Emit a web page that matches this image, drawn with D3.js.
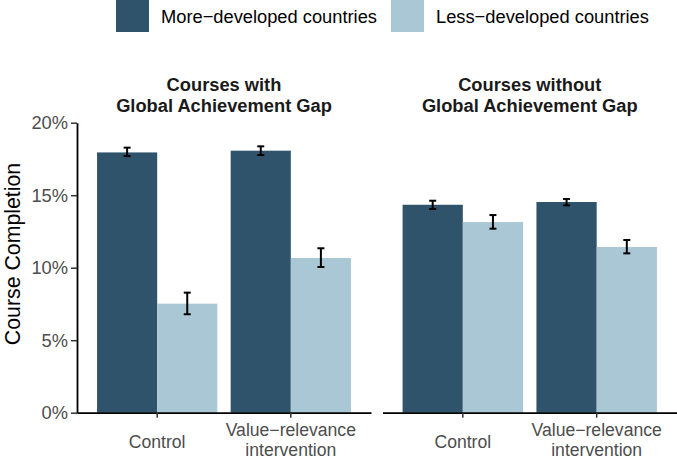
<!DOCTYPE html>
<html><head><meta charset="utf-8">
<script src="https://cdn.jsdelivr.net/npm/d3@7"></script>
<style>body{margin:0;background:#fff}svg{display:block}</style>
</head><body>
<script>
// ---- data ----
const panels = ["Courses with\nGlobal Achievement Gap", "Courses without\nGlobal Achievement Gap"];
const conditions = ["Control", "Value\u2212relevance\nintervention"];
const groups = ["More\u2212developed countries", "Less\u2212developed countries"];
const groupColors = ["#2F536A", "#A9C7D5"];
// values in %, order: panel -> condition -> group
const moreValues = [[17.95, 18.07], [14.34, 14.53]];
const moreLower  = [[17.70, 17.77], [14.05, 14.30]];
const moreUpper  = [[18.28, 18.37], [14.62, 14.74]];
const lessValues = [[7.52, 10.67], [13.15, 11.43]];
const lessLower  = [[6.79, 10.05], [12.69, 10.99]];
const lessUpper  = [[8.28, 11.34], [13.63, 11.91]];
const yTicks = [0, 5, 10, 15, 20];

const W = 677, H = 462;
const svg = d3.select("body").append("svg").attr("width", W).attr("height", H);
const font = "'Liberation Sans', Arial, Helvetica, sans-serif";

const y = d3.scaleLinear().domain([0, 20]).range([412.7, 122.7]);
const panelRanges = [[77, 371], [382.5, 677]];

const rows = [];
panels.forEach((p, pi) => conditions.forEach((c, ci) => {
  rows.push({pi, ci, g: 0, v: moreValues[pi][ci], lo: moreLower[pi][ci], hi: moreUpper[pi][ci]});
  rows.push({pi, ci, g: 1, v: lessValues[pi][ci], lo: lessLower[pi][ci], hi: lessUpper[pi][ci]});
}));

panels.forEach((p, pi) => {
  const x = d3.scaleBand().domain(conditions).range(panelRanges[pi]).paddingInner(0.1).paddingOuter(0.15);
  const xs = d3.scaleBand().domain([0, 1]).range([0, x.bandwidth()]).padding(0);
  const g = svg.append("g");
  const data = rows.filter(r => r.pi === pi);
  g.selectAll("rect.bar").data(data).enter().append("rect")
    .attr("x", d => x(conditions[d.ci]) + xs(d.g))
    .attr("width", xs.bandwidth())
    .attr("y", d => y(d.v))
    .attr("height", d => y(0) - y(d.v))
    .attr("fill", d => groupColors[d.g]);
  // error bars
  const eb = g.selectAll("g.eb").data(data).enter().append("g")
    .attr("stroke", "#000").attr("stroke-width", 2);
  const cx = d => x(conditions[d.ci]) + xs(d.g) + xs.bandwidth() / 2;
  eb.append("line").attr("x1", cx).attr("x2", cx).attr("y1", d => y(d.lo)).attr("y2", d => y(d.hi));
  eb.append("line").attr("x1", d => cx(d) - 3.5).attr("x2", d => cx(d) + 3.5).attr("y1", d => y(d.lo)).attr("y2", d => y(d.lo));
  eb.append("line").attr("x1", d => cx(d) - 3.5).attr("x2", d => cx(d) + 3.5).attr("y1", d => y(d.hi)).attr("y2", d => y(d.hi));

  // x axis
  const xAxis = g.append("g").attr("transform", `translate(0,${y(0)})`)
    .call(d3.axisBottom(x).tickSize(5).tickSizeOuter(0).tickFormat(""));
  xAxis.select(".domain").attr("stroke", "#000").attr("stroke-width", 1.8);
  xAxis.selectAll(".tick line").attr("stroke", "#333").attr("stroke-width", 1.5);
  // x labels
  conditions.forEach(c => {
    const lines = c.split("\n");
    const cxp = x(c) + x.bandwidth() / 2;
    const t = g.append("text").attr("text-anchor", "middle").attr("font-family", font)
      .attr("font-size", 17.6).attr("fill", "#4D4D4D");
    if (lines.length === 1) {
      t.append("tspan").attr("x", cxp).attr("y", 448).text(lines[0]);
    } else {
      lines.forEach((l, li) => t.append("tspan").attr("x", cxp).attr("y", 436.4 + li * 19.8).text(l));
    }
  });
  // facet title
  const cxm = (panelRanges[pi][0] + panelRanges[pi][1]) / 2;
  const tt = g.append("text").attr("text-anchor", "middle").attr("font-family", font)
    .attr("font-size", 18.3).attr("font-weight", "bold").attr("fill", "#1A1A1A");
  p.split("\n").forEach((l, li) => tt.append("tspan").attr("x", cxm).attr("y", 91 + li * 20.6).text(l));

  if (pi === 0) {
    const yAxis = g.append("g").attr("transform", `translate(${panelRanges[0][0]},0)`)
      .call(d3.axisLeft(y).tickValues(yTicks).tickSize(6).tickSizeOuter(0).tickPadding(3).tickFormat(d => d + "%"));
    yAxis.select(".domain").attr("stroke", "#000").attr("stroke-width", 1.8);
    yAxis.selectAll(".tick line").attr("stroke", "#333").attr("stroke-width", 1.5);
    yAxis.selectAll(".tick text").attr("font-family", font).attr("font-size", 18.3).attr("fill", "#4D4D4D");
  }
});

// y title
svg.append("text").attr("transform", "translate(20,254) rotate(-90)")
  .attr("text-anchor", "middle").attr("font-family", font).attr("font-size", 21.3).attr("fill", "#000")
  .text("Course Completion");

// legend
const legX = [116, 391];
groups.forEach((gname, i) => {
  svg.append("rect").attr("x", legX[i]).attr("y", -1).attr("width", 33).attr("height", 33).attr("fill", groupColors[i]);
  svg.append("text").attr("x", legX[i] + 45).attr("y", 23).attr("font-family", font)
    .attr("font-size", 18.3).attr("fill", "#000").text(gname);
});
</script>
</body></html>
